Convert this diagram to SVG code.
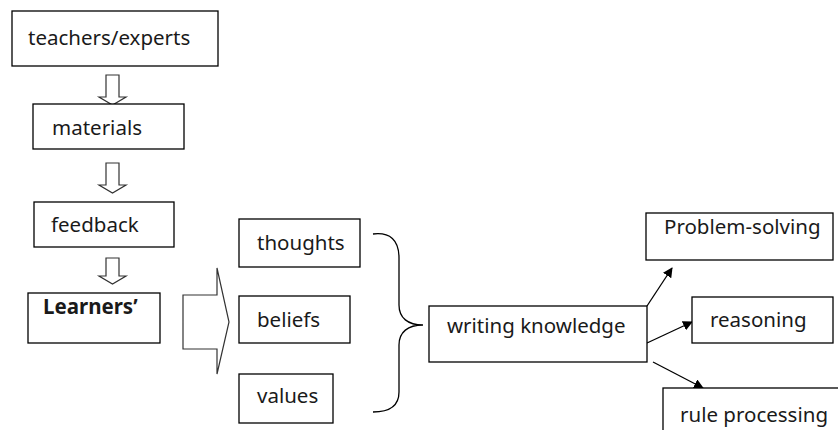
<svg xmlns="http://www.w3.org/2000/svg" width="838" height="430" viewBox="0 0 838 430">
<style>
.box{fill:#fff;stroke:#000;stroke-width:1.3}
.t{font-family:"Noto Sans",sans-serif;font-size:20.5px;fill:#1a1a1a}
.b{font-weight:bold}
.blk{fill:#fff;stroke:#333;stroke-width:1.2}
.ln{fill:none;stroke:#000;stroke-width:1.3}
</style>
<defs>
<marker id="ah" viewBox="0 0 10 10" refX="9" refY="5" markerWidth="10" markerHeight="10" markerUnits="userSpaceOnUse" orient="auto">
<path d="M0,0 L10,5 L0,10 Z" fill="#000"/>
</marker>
</defs>
<rect width="838" height="430" fill="#fff"/>
<g id="connectors">
<path class="blk" d="M106,75 H119 V97 H126 L112.5,105 L99,97 H106 Z"/>
<path class="blk" d="M106,163 H119 V185 H126 L112.5,193 L99,185 H106 Z"/>
<path class="blk" d="M106,258 H119 V276 H126 L112.5,284 L99,276 H106 Z"/>
<path class="blk" d="M183,295 H217 V268 L229,322 L217,374 V349 H183 Z"/>
<path class="ln" d="M373,234 C390,232 399,240 399,258 V305 C399,318 408,325 423,325 C408,325 399,332 399,345 V392 C399,405 390,412 373,412"/>
<line class="ln" x1="647" y1="306" x2="672" y2="268" marker-end="url(#ah)"/>
<line class="ln" x1="647" y1="343" x2="692" y2="322" marker-end="url(#ah)"/>
<line class="ln" x1="653" y1="362" x2="703" y2="388" marker-end="url(#ah)"/>
</g>
<g id="teachers"><rect class="box" x="12" y="11" width="206" height="55"/><text class="t" x="28" y="45">teachers/experts</text></g>
<g id="materials"><rect class="box" x="33" y="104" width="151" height="45"/><text class="t" x="52" y="135">materials</text></g>
<g id="feedback"><rect class="box" x="34" y="202" width="140" height="45"/><text class="t" x="51" y="232">feedback</text></g>
<g id="learners"><rect class="box" x="28" y="293" width="132" height="50"/><text class="t b" x="43" y="314">Learners’</text></g>
<g id="thoughts"><rect class="box" x="239" y="219" width="121" height="48"/><text class="t" x="257" y="250">thoughts</text></g>
<g id="beliefs"><rect class="box" x="239" y="296" width="111" height="47"/><text class="t" x="257" y="327">beliefs</text></g>
<g id="values"><rect class="box" x="239" y="374" width="94" height="49"/><text class="t" x="257" y="403">values</text></g>
<g id="writing"><rect class="box" x="429" y="306" width="218" height="56"/><text class="t" x="447" y="333">writing knowledge</text></g>
<g id="problem"><rect class="box" x="646" y="213" width="187" height="47"/><text class="t" x="664" y="234">Problem-solving</text></g>
<g id="reasoning"><rect class="box" x="692" y="297" width="141" height="46"/><text class="t" x="710" y="327">reasoning</text></g>
<g id="rule"><rect class="box" x="663" y="388" width="180" height="50"/><text class="t" x="680" y="422">rule processing</text></g>
</svg>
